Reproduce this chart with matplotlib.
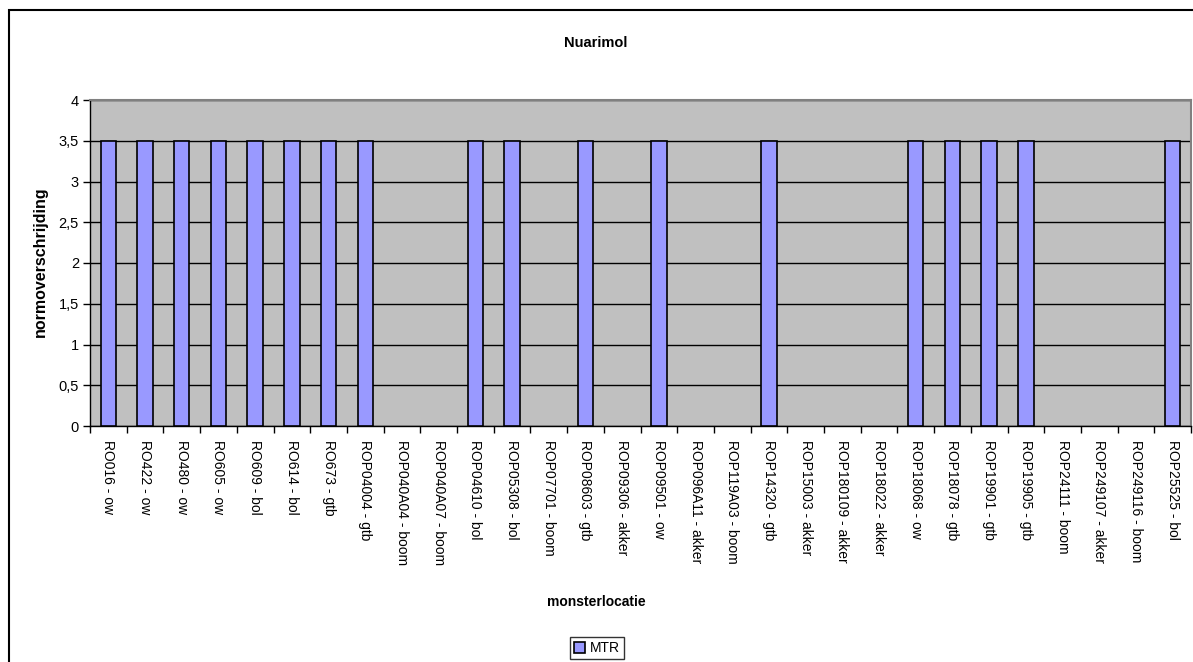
import numpy as np
import matplotlib.pyplot as plt
from matplotlib.patches import Rectangle

plt.rcParams['font.family'] = ['Liberation Sans', 'DejaVu Sans']

locaties = ['RO016 - ow', 'RO422 - ow', 'RO480 - ow', 'RO605 - ow', 'RO609 - bol',
            'RO614 - bol', 'RO673 - gtb', 'ROP04004 - gtb', 'ROP040A04 - boom',
            'ROP040A07 - boom', 'ROP04610 - bol', 'ROP05308 - bol', 'ROP07701 - boom',
            'ROP08603 - gtb', 'ROP09306 - akker', 'ROP09501 - ow', 'ROP096A11 - akker',
            'ROP119A03 - boom', 'ROP14320 - gtb', 'ROP15003 - akker', 'ROP180109 - akker',
            'ROP18022 - akker', 'ROP18068 - ow', 'ROP18078 - gtb', 'ROP19901 - gtb',
            'ROP19905 - gtb', 'ROP24111 - boom', 'ROP249107 - akker', 'ROP249116 - boom',
            'ROP25525 - bol']
mtr = [3.5, 3.5, 3.5, 3.5, 3.5, 3.5, 3.5, 3.5, 0, 0,
       3.5, 3.5, 0, 3.5, 0, 3.5, 0, 0, 3.5, 0,
       0, 0, 3.5, 3.5, 3.5, 3.5, 0, 0, 0, 3.5]
yticks = [0, 0.5, 1, 1.5, 2, 2.5, 3, 3.5, 4]
ytick_labels = ['0', '0,5', '1', '1,5', '2', '2,5', '3', '3,5', '4']

W, H = 1193, 662
fig = plt.figure(figsize=(W / 100, H / 100), dpi=100)
ax = fig.add_axes([90 / W, 1 - 426 / H, (1191 - 90) / W, (426 - 100) / H])

x = np.arange(len(locaties))
vals = np.array(mtr, dtype=float)
shown = vals > 0  # empty locations get no bar at all

ax.set_facecolor('#C0C0C0')
ax.set_axisbelow(True)
ax.yaxis.grid(True, color='black', linewidth=1)
ax.bar(x[shown], vals[shown], width=0.42, color='#9999FF', edgecolor='black',
       linewidth=1.2, label='MTR', zorder=3)

ax.set_xlim(-0.5, len(locaties) - 0.5)
ax.set_ylim(0, 4)
ax.set_yticks(yticks)
ax.set_yticklabels(ytick_labels, fontsize=10.5)
ax.set_xticks(x)
ax.set_xticklabels(locaties, rotation=-90, fontsize=10, va='top', ha='center')
ax.set_xticks(np.arange(len(locaties) + 1) - 0.5, minor=True)
ax.tick_params(axis='x', which='major', length=0, pad=10)
ax.tick_params(axis='x', which='minor', length=5, width=1, direction='out')
ax.tick_params(axis='y', length=5, width=1, direction='out', pad=3)

for side in ('top', 'right'):
    ax.spines[side].set_color('#808080')
    ax.spines[side].set_linewidth(1.5)
for side in ('left', 'bottom'):
    ax.spines[side].set_color('black')
    ax.spines[side].set_linewidth(1)

fig.text(596 / W, 1 - 43 / H, 'Nuarimol', ha='center', va='center',
         fontsize=10.5, fontweight='bold')
fig.text(596 / W, 1 - 602 / H, 'monsterlocatie', ha='center', va='center',
         fontsize=10, fontweight='bold')
fig.text(40 / W, 1 - 262 / H, 'normoverschrijding', ha='center', va='center',
         rotation=90, fontsize=11.5, fontweight='bold')

leg = fig.legend(loc='upper center', bbox_to_anchor=(597 / W, 1 - 637 / H),
                 fontsize=10, frameon=True, fancybox=False, handlelength=0.8,
                 handleheight=0.8, handletextpad=0.3, borderpad=0.3,
                 borderaxespad=0)
leg.get_frame().set_edgecolor('black')
leg.get_frame().set_linewidth(1)

# chart border
fig.patches.append(Rectangle((9 / W, -0.1), 1.2, 1 - 10 / H + 0.1,
                             transform=fig.transFigure, fill=False,
                             edgecolor='black', linewidth=1.5))

fig.savefig('out.png', dpi=100)
